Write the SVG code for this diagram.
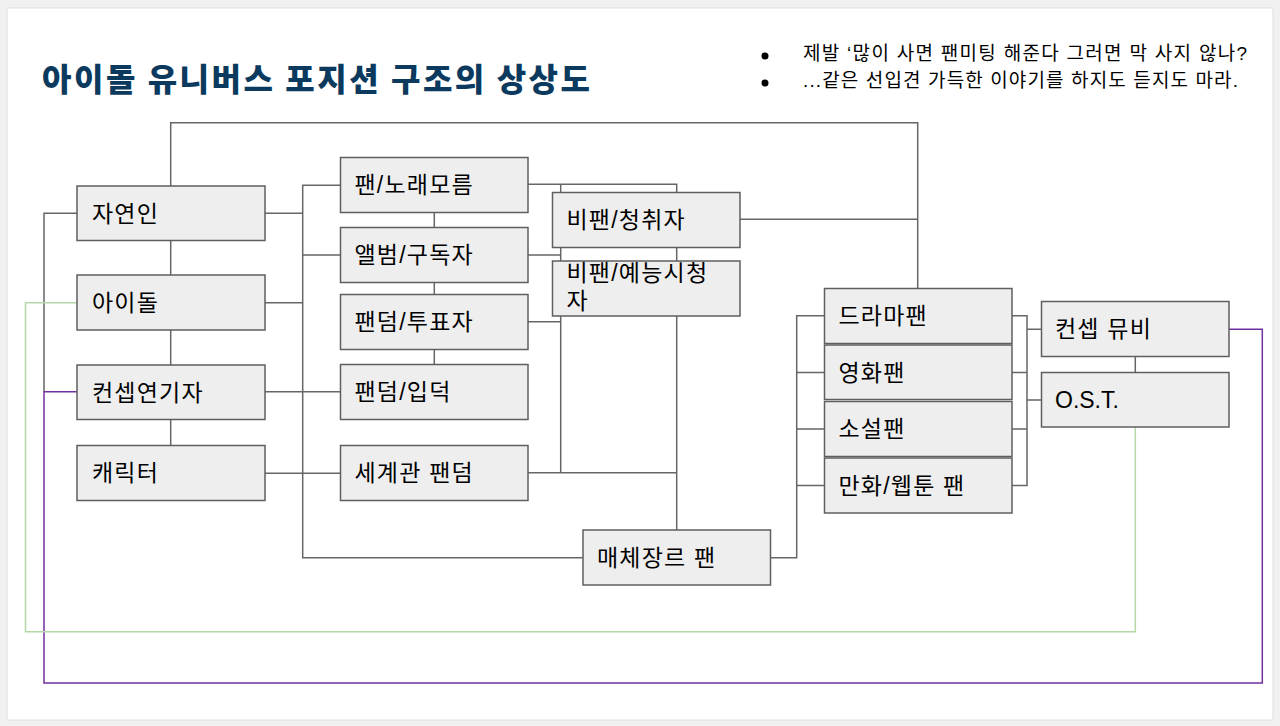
<svg xmlns="http://www.w3.org/2000/svg" width="1280" height="726" viewBox="0 0 1280 726">
<style>
.node rect{fill:#eeeeee;stroke:#5f5f5f;stroke-width:1.5}
.node text{font-family:"Liberation Sans","Noto Sans CJK KR",sans-serif;font-size:23px;fill:#000;letter-spacing:1.2px}
.conn path{fill:none;stroke:#666666;stroke-width:1.5}
.conn path.green{stroke:#b6d7a8}
.conn path.purple{stroke:#7030a0}
.title{font-family:"Noto Sans CJK KR",sans-serif;font-weight:900;font-size:32px;fill:#0b3a5e}
.note{font-family:"Liberation Sans","Noto Sans CJK KR",sans-serif;font-size:19px;fill:#000}
</style>
<rect x="0" y="0" width="1280" height="726" fill="#f1f1f1"/>
<rect x="7" y="8" width="1266" height="712" fill="#ffffff" stroke="#dedede" stroke-width="1"/>
<text class="title" x="42" y="91" textLength="548" lengthAdjust="spacing">아이돌 유니버스 포지션 구조의 상상도</text>
<g id="notes">
<circle cx="765" cy="56" r="3.5" fill="#000"/>
<circle cx="765" cy="83" r="3.5" fill="#000"/>
<text class="note" x="803" y="60" textLength="444" lengthAdjust="spacing">제발 ‘많이 사면 팬미팅 해준다 그러면 막 사지 않나?</text>
<text class="note" x="803" y="87" textLength="435" lengthAdjust="spacing">...같은 선입견 가득한 이야기를 하지도 듣지도 마라.</text>
</g>
<g id="connectors" class="conn">
<path d="M170.7,186 V122.7 H917.7 V288.5"/>
<path d="M170.7,241 V275 M170.7,330 V365 M170.7,419.5 V445.5"/>
<path d="M77,213.3 H44 V391.7"/>
<path class="purple" d="M77,391.7 H44 V683 H1262.3 V329.3 H1229"/>
<path class="green" d="M77,302.7 H25.5 V631.7 H1135.3 V427"/>
<path d="M265,213.3 H302.7 M265,302.7 H302.7 M265,391.7 H340.5 M265,473.3 H340.5"/>
<path d="M340.5,185.3 H302.7 V557.7 H583 M302.7,255 H340.5"/>
<path d="M434.3,212.5 V227.5 M434.3,282.5 V294.5 M434.3,349.5 V364.5"/>
<path d="M528,184.3 H676.7 V530 M560.7,184.3 V472.7 M528,472.7 H676.7"/>
<path d="M528,255 H560.7 M528,321.7 H560.7"/>
<path d="M740,219.3 H917.7"/>
<path d="M770.5,557.7 H796.7 V315.7 H824.5 M796.7,372.5 H824.5 M796.7,429 H824.5 M796.7,485.5 H824.5"/>
<path d="M1012,315.7 H1027 V485.5 H1012 M1012,372.5 H1027 M1012,429 H1027 M1027,329.3 H1041.5 M1027,400 H1041.5"/>
<path d="M1135.3,356.5 V372.5"/>
</g>
<g id="n-jayeonin" class="node"><rect x="77" y="186" width="188" height="54.5"/><text x="92" y="221.5">자연인</text></g>
<g id="n-idol" class="node"><rect x="77" y="275" width="188" height="55"/><text x="92" y="310.5">아이돌</text></g>
<g id="n-concept-actor" class="node"><rect x="77" y="365" width="188" height="54.5"/><text x="92" y="400.5">컨셉연기자</text></g>
<g id="n-character" class="node"><rect x="77" y="445.5" width="188" height="55"/><text x="92" y="481">캐릭터</text></g>
<g id="n-fan-song" class="node"><rect x="340.5" y="157.5" width="187.5" height="55"/><text x="354.5" y="193">팬/노래모름</text></g>
<g id="n-album" class="node"><rect x="340.5" y="227.5" width="187.5" height="55"/><text x="354.5" y="263">앨범/구독자</text></g>
<g id="n-fandom-vote" class="node"><rect x="340.5" y="294.5" width="187.5" height="55"/><text x="354.5" y="330">팬덤/투표자</text></g>
<g id="n-fandom-entry" class="node"><rect x="340.5" y="364.5" width="187.5" height="55"/><text x="354.5" y="400">팬덤/입덕</text></g>
<g id="n-world-fandom" class="node"><rect x="340.5" y="445.5" width="187.5" height="55"/><text x="354.5" y="481">세계관 팬덤</text></g>
<g id="n-nonfan-listener" class="node"><rect x="552.5" y="192.5" width="187.5" height="55"/><text x="566.5" y="228">비팬/청취자</text></g>
<g id="n-nonfan-variety" class="node"><rect x="552.5" y="261" width="187.5" height="55"/><text x="566.5" y="281">비팬/예능시청</text><text x="566.5" y="309">자</text></g>
<g id="n-media-genre" class="node"><rect x="583" y="530" width="187.5" height="55"/><text x="597" y="565.5">매체장르 팬</text></g>
<g id="n-drama" class="node"><rect x="824.5" y="288.5" width="187.5" height="55"/><text x="838.5" y="324">드라마팬</text></g>
<g id="n-movie" class="node"><rect x="824.5" y="345" width="187.5" height="54.5"/><text x="838.5" y="380.5">영화팬</text></g>
<g id="n-novel" class="node"><rect x="824.5" y="401.5" width="187.5" height="55"/><text x="838.5" y="437">소설팬</text></g>
<g id="n-webtoon" class="node"><rect x="824.5" y="458" width="187.5" height="55"/><text x="838.5" y="493.5">만화/웹툰 팬</text></g>
<g id="n-concept-mv" class="node"><rect x="1041.5" y="301.5" width="187.5" height="55"/><text x="1055" y="337">컨셉 뮤비</text></g>
<g id="n-ost" class="node"><rect x="1041.5" y="372.5" width="187.5" height="54.5"/><text x="1055" y="408" style="letter-spacing:0">O.S.T.</text></g>
</svg>
